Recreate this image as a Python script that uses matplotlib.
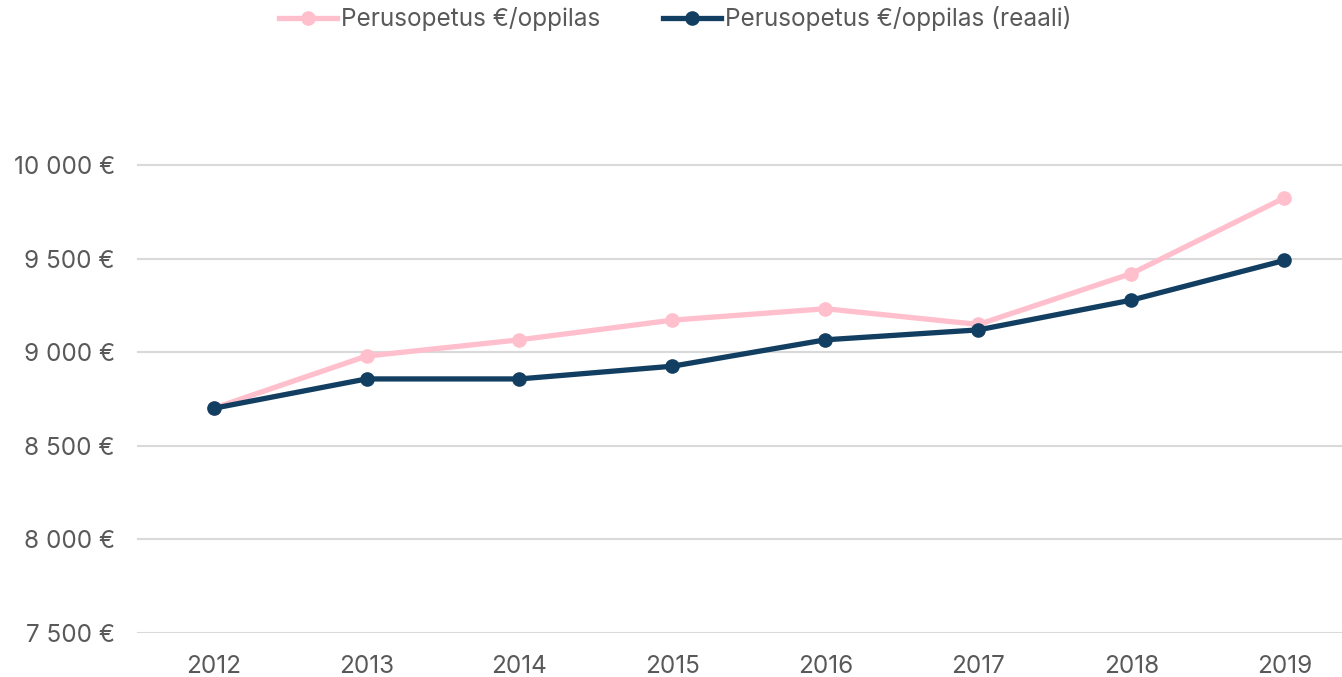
import matplotlib
matplotlib.use("Agg")
import matplotlib.pyplot as plt
from matplotlib.ticker import FuncFormatter

plt.rcParams['font.family'] = ['Inter', 'DejaVu Sans']

# data
years = ['2012', '2013', '2014', '2015', '2016', '2017', '2018', '2019']
nominal = [8700, 8979, 9066, 9171, 9232, 9148, 9420, 9824]
real = [8700, 8857, 8857, 8925, 9066, 9119, 9278, 9490]

PINK = '#FFBFCC'
NAVY = '#123F61'
GREY = '#595959'

fig = plt.figure(figsize=(13.42, 6.77), dpi=100)
ax = fig.add_axes([0.1021, 0.065, 0.912, 0.802])

x = list(range(len(years)))
ax.plot(x, nominal, color=PINK, lw=3.8, marker='o', ms=9.5,
        label='Perusopetus €/oppilas', zorder=3)
ax.plot(x, real, color=NAVY, lw=3.8, marker='o', ms=9.5,
        label='Perusopetus €/oppilas (reaali)', zorder=4)

ax.set_xlim(-0.5, 7.5)
ax.set_ylim(7500, 10400)
ax.set_yticks([7500, 8000, 8500, 9000, 9500, 10000])
ax.yaxis.set_major_formatter(FuncFormatter(lambda v, p: f"{int(v):,} €".replace(',', ' ')))
ax.set_xticks(x)
ax.set_xticklabels(years)

ax.grid(axis='y', color='#D9D9D9', lw=1.5)
ax.set_axisbelow(True)
for s in ax.spines.values():
    s.set_visible(False)
ax.tick_params(length=0, labelsize=17.5, colors=GREY)
ax.tick_params(axis='x', pad=16)
ax.tick_params(axis='y', pad=16)

fig.legend(loc='upper center', bbox_to_anchor=(0.503, 1.023), ncol=2, frameon=False,
           fontsize=17.5, labelcolor=GREY, handlelength=2.4, handletextpad=0.15,
           columnspacing=2.6)

fig.savefig('out.png', dpi=100)
